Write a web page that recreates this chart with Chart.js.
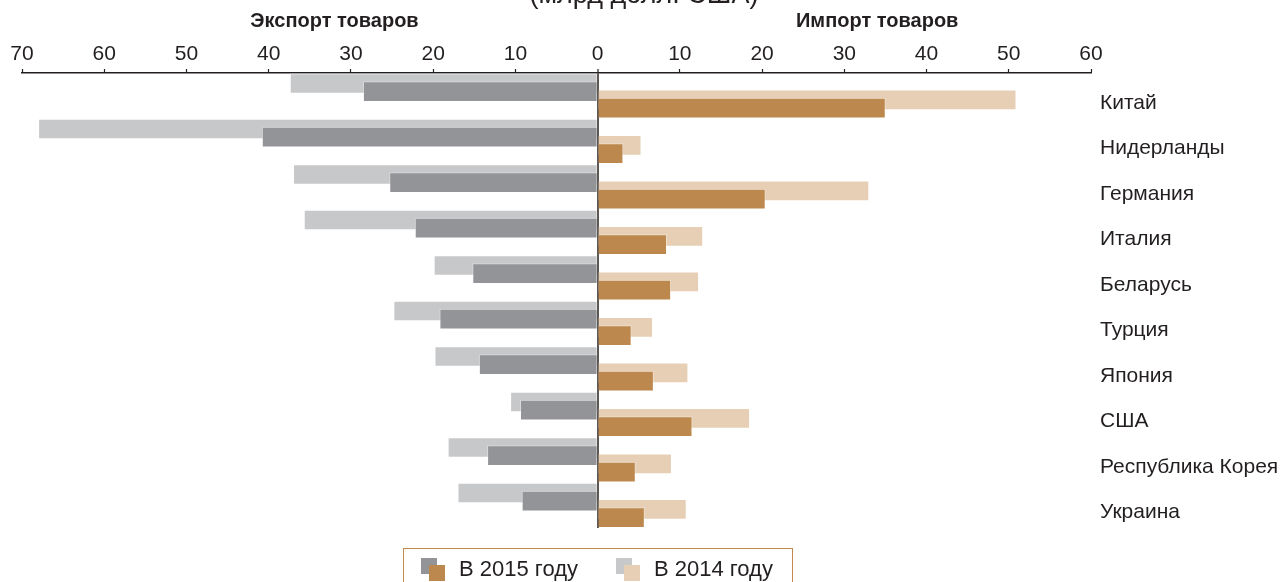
<!DOCTYPE html>
<html lang="ru">
<head>
<meta charset="utf-8">
<title>Экспорт и импорт товаров</title>
<script src="https://cdn.jsdelivr.net/npm/chart.js@4.4.1/dist/chart.umd.min.js"></script>
<style>
  html, body { margin: 0; padding: 0; background: #fff; overflow: hidden; }
  #wrap { position: relative; width: 1288px; height: 582px; }
  #legend {
    position: absolute; left: 403px; top: 548px; width: 390px; height: 50px;
    border: 1px solid #c2884e; border-bottom: none;
    display: flex; align-items: flex-start; padding: 8px 0 0 17px; box-sizing: border-box;
    white-space: nowrap;
    font: 22px "Liberation Sans", Arial, sans-serif; color: #231f20;
  }
  #legend .item { display: flex; align-items: center; margin-right: 38px; height: 24px; line-height: 24px; white-space: nowrap; }
  #legend .icon { position: relative; width: 24px; height: 23px; margin-right: 14px; flex: none; }
  #legend .icon span { position: absolute; width: 16px; height: 16px; }
</style>
</head>
<body>
<div id="wrap">
  <canvas id="chart" width="1288" height="582"></canvas>
  <div id="legend"></div>
</div>
<script>
// Data (млрд долл. США)
const categories = ["Китай", "Нидерланды", "Германия", "Италия", "Беларусь",
  "Турция", "Япония", "США", "Республика Корея", "Украина"];
const export2014 = [37.4, 68.0, 37.0, 35.7, 19.9, 24.8, 19.8, 10.6, 18.2, 17.0];
const export2015 = [28.5, 40.8, 25.3, 22.2, 15.2, 19.2, 14.4, 9.4, 13.4, 9.2];
const import2014 = [50.9, 5.3, 33.0, 12.8, 12.3, 6.7, 11.0, 18.5, 9.0, 10.8];
const import2015 = [35.0, 3.1, 20.4, 8.4, 8.9, 4.1, 6.8, 11.5, 4.6, 5.7];
const years = ["В 2015 году", "В 2014 году"];
const sideTitles = ["Экспорт товаров", "Импорт товаров"];
const unitText = "(млрд долл. США)";

const textColor = "#231f20";
const fontFamily = '"Liberation Sans", Arial, sans-serif';

// each series sits a little higher or lower inside its row (row units)
function rows(values, shift, sign) {
  return values.map((v, i) => ({ x: sign * v, y: i + shift }));
}

const colors = {
  exp2015: "#939498",
  exp2014: "#c7c8ca",
  imp2015: "#bd884d",
  imp2014: "#e6cfb5",
};

function barSet(label, data, color) {
  return {
    label: label,
    data: data,
    backgroundColor: color,
    borderColor: "rgba(255,255,255,0.35)",
    borderWidth: 1,
    borderSkipped: "start",
    barThickness: 20,
    grouped: false,
  };
}

// 2015 first so it is drawn on top of 2014
const datasets = [
  barSet(years[0] + " (экспорт)", rows(export2015, -0.09, -1), colors.exp2015),
  barSet(years[0] + " (импорт)", rows(import2015, 0.272, 1), colors.imp2015),
  barSet(years[1] + " (экспорт)", rows(export2014, -0.27, -1), colors.exp2014),
  barSet(years[1] + " (импорт)", rows(import2014, 0.09, 1), colors.imp2014),
];

const titlesPlugin = {
  id: "sideTitles",
  afterDraw(chart) {
    const { ctx } = chart;
    const x = chart.scales.x;
    ctx.save();
    ctx.fillStyle = textColor;
    ctx.textAlign = "center";
    ctx.textBaseline = "middle";
    ctx.font = "bold 20px " + fontFamily;
    ctx.fillText(sideTitles[0], x.getPixelForValue(-32), 21);
    ctx.fillText(sideTitles[1], x.getPixelForValue(34), 21);
    // the unit line is mostly cut off by the top edge
    ctx.font = "27px " + fontFamily;
    ctx.textBaseline = "alphabetic";
    ctx.fillText(unitText, chart.width / 2, 3);
    ctx.restore();
  },
};

new Chart("chart", {
  type: "bar",
  data: { datasets: datasets },
  plugins: [titlesPlugin],
  options: {
    indexAxis: "y",
    responsive: false,
    animation: false,
    layout: { padding: { left: 22, top: 40, bottom: 54, right: 0 } },
    plugins: {
      legend: { display: false },
      tooltip: { enabled: false },
    },
    scales: {
      x: {
        type: "linear",
        position: "top",
        min: -70,
        max: 60,
        stacked: false,
        z: 1,
        afterFit: (scale) => { scale.height = 33; },
        border: { display: true, color: textColor, width: 1.5 },
        grid: {
          drawOnChartArea: true,
          drawTicks: true,
          tickLength: 4,
          tickWidth: 1.2,
          tickColor: textColor,
          color: (c) => (c.tick && c.tick.value === 0 ? "#5e5854" : "rgba(0,0,0,0)"),
          lineWidth: (c) => (c.tick && c.tick.value === 0 ? 2 : 1),
        },
        ticks: {
          stepSize: 10,
          padding: 2,
          maxRotation: 0,
          autoSkip: false,
          color: textColor,
          font: { family: fontFamily, size: 21 },
          callback: (v) => Math.abs(v),
        },
      },
      y: {
        type: "linear",
        position: "right",
        reverse: true,
        offset: false,
        min: -0.5,
        max: categories.length - 0.5,
        afterBuildTicks: (scale) => {
          scale.ticks = categories.map((_, i) => ({ value: i }));
        },
        afterFit: (scale) => { scale.width = 197; },
        border: { display: false },
        grid: { display: false, drawTicks: false, offset: false },
        ticks: {
          padding: 9,
          labelOffset: 7,
          autoSkip: false,
          color: textColor,
          font: { family: fontFamily, size: 21 },
          callback: (v) => categories[v] ?? "",
        },
      },
    },
  },
});

// legend: grey square behind, tan square in front
const legendEl = document.getElementById("legend");
[[colors.exp2015, colors.imp2015], [colors.exp2014, colors.imp2014]].forEach((pair, i) => {
  const item = document.createElement("div");
  item.className = "item";
  item.innerHTML =
    '<div class="icon"><span style="left:0;top:0;background:' + pair[0] + '"></span>' +
    '<span style="left:8px;top:7px;background:' + pair[1] + '"></span></div>' +
    "<span>" + years[i] + "</span>";
  legendEl.appendChild(item);
});
</script>
</body>
</html>
